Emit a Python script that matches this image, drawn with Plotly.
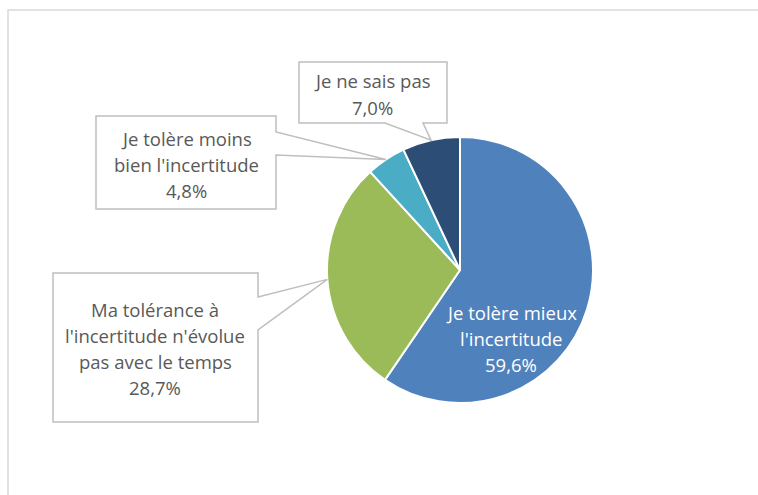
import math

import plotly.graph_objects as go

W, H = 758, 495

# data
labels = [
    "Je tolère mieux l'incertitude",
    "Ma tolérance à l'incertitude n'évolue pas avec le temps",
    "Je tolère moins bien l'incertitude",
    "Je ne sais pas",
]
label_lines = [
    ["Je tolère mieux", "l'incertitude"],
    ["Ma tolérance à", "l'incertitude n'évolue", "pas avec le temps"],
    ["Je tolère moins", "bien l'incertitude"],
    ["Je ne sais pas"],
]
values = [59.6, 28.7, 4.8, 7.0]
colors = ["#4F81BD", "#9BBB59", "#4BACC6", "#2C4D75"]

# layout (pixels)
CX, CY, R = 460, 270, 133
LINE_H = 26
GRAY_TXT = "#595959"
FONT = "Open Sans"
FSIZE = 18.5

# callouts: box (x0, y0, x1, y1), edge of the pointer, base span, text centre x, first line y
callouts = {
    1: dict(box=(53, 273, 258, 422), edge="right", base=(297, 330), tx=155, ty=309),
    2: dict(box=(96, 116, 276, 209), edge="right", base=(132, 155), tx=186, ty=138),
    3: dict(box=(299, 62, 447, 123), edge="bottom", base=(385, 423), tx=372, ty=81),
}


def px(x):
    return x / W


def py(y):
    return 1 - y / H


def fmt(v):
    return f"{v:.1f}".replace(".", ",") + "%"


def slice_mid(i):
    total = sum(values)
    start = sum(values[:i]) / total
    mid = (start + values[i] / total / 2) * 2 * math.pi
    # clockwise from 12 o'clock
    return CX + R * math.sin(mid), CY - R * math.cos(mid)


def callout_path(box, edge, base, tip):
    x0, y0, x1, y1 = box
    tx, ty = tip
    if edge == "right":
        pts = [(x0, y0), (x1, y0), (x1, base[0]), (tx, ty), (x1, base[1]), (x1, y1), (x0, y1)]
    else:
        pts = [(x0, y0), (x1, y0), (x1, y1), (base[1], y1), (tx, ty), (base[0], y1), (x0, y1)]
    return "M " + " L ".join(f"{px(a):.5f},{py(b):.5f}" for a, b in pts) + " Z"


fig = go.Figure(
    go.Pie(
        labels=labels,
        values=values,
        sort=False,
        direction="clockwise",
        rotation=0,
        marker=dict(colors=colors, line=dict(color="white", width=2)),
        textinfo="none",
        hovertemplate="%{label}<br>%{value:.1f}%<extra></extra>",
        domain=dict(x=[px(CX - R), px(CX + R)], y=[py(CY + R), py(CY - R)]),
        showlegend=False,
    )
)

shapes = [
    dict(
        type="rect", xref="paper", yref="paper",
        x0=px(8), y0=py(10), x1=1.02, y1=-0.02,
        line=dict(color="#D9D9D9", width=1.5), fillcolor="rgba(0,0,0,0)", layer="below",
    )
]
annotations = []

for i, c in callouts.items():
    tip = slice_mid(i)
    shapes.append(
        dict(
            type="path", xref="paper", yref="paper",
            path=callout_path(c["box"], c["edge"], c["base"], tip),
            line=dict(color="#BFBFBF", width=1.5), fillcolor="white",
        )
    )
    lines = label_lines[i] + [fmt(values[i])]
    for k, txt in enumerate(lines):
        annotations.append(
            dict(
                x=px(c["tx"]), y=py(c["ty"] + k * LINE_H), xref="paper", yref="paper",
                text=txt, showarrow=False, xanchor="center", yanchor="middle",
                font=dict(family=FONT, size=FSIZE, color=GRAY_TXT),
            )
        )

# label inside the big slice
inside = label_lines[0] + [fmt(values[0])]
for k, txt in enumerate(inside):
    annotations.append(
        dict(
            x=px(511), y=py(312 + k * LINE_H), xref="paper", yref="paper",
            text=txt, showarrow=False, xanchor="center", yanchor="middle",
            font=dict(family=FONT, size=FSIZE, color="white"),
        )
    )

fig.update_layout(
    width=W,
    height=H,
    margin=dict(l=0, r=0, t=0, b=0),
    paper_bgcolor="white",
    plot_bgcolor="white",
    shapes=shapes,
    annotations=annotations,
)

# drop the default page margin so the figure sits at the window origin
fig.write_html(
    "out.html",
    config={"displayModeBar": False},
    post_script="document.body.style.margin='0';document.body.style.overflow='hidden';",
)
